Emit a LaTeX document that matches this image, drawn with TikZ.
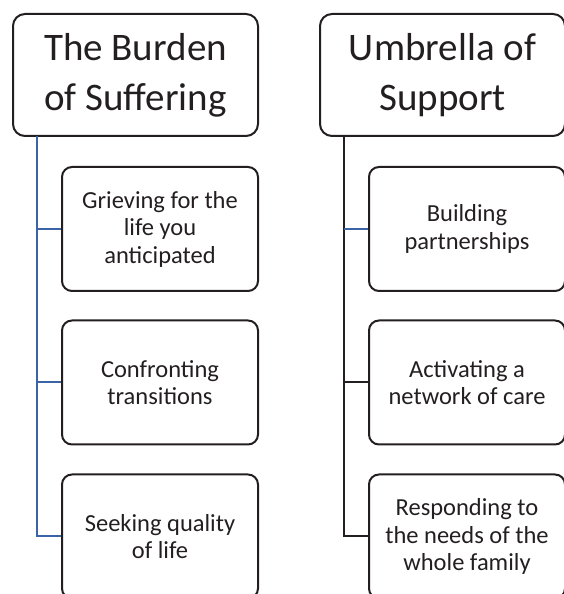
\documentclass[tikz,border=0pt]{standalone}
\usepackage{fontspec}
\setmainfont{Carlito}
\definecolor{linkblue}{HTML}{3A63A8}
\definecolor{boxline}{HTML}{231F20}
\definecolor{txt}{HTML}{231F20}
\tikzset{
  x=1pt,y=1pt,
  hdr/.style={draw=boxline,line width=2pt,rounded corners=12pt,minimum width=245pt,minimum height=122pt,align=center,text=txt,inner sep=0pt,font=\fontsize{39}{50}\selectfont},
  child/.style={draw=boxline,line width=2pt,rounded corners=10pt,minimum width=196pt,minimum height=124pt,align=center,text=txt,inner sep=0pt,font=\fontsize{24.5}{27.5}\selectfont},
  bluelink/.style={draw=linkblue,line width=2pt},
  blacklink/.style={draw=boxline,line width=2pt}
}
\begin{document}
\begin{tikzpicture}
\useasboundingbox (0,0) rectangle (563,594);
\coordinate (L0) at (37,458);
\coordinate (R0) at (344,458);
\node[hdr] (h1) at (135.5,519) {The Burden\\of Suffering};
\node[hdr] (h2) at (442.5,519) {Umbrella of\\Support};
\node[child] (a1) at (160,365) {Grieving for the\\life you\\anticipated};
\node[child] (a2) at (160,211.5) {Confronting\\transitions};
\node[child] (a3) at (160,57.5) {Seeking quality\\of life};
\node[child] (b1) at (467,365) {Building\\partnerships};
\node[child] (b2) at (467,211.5) {Activating a\\network of care};
\node[child] (b3) at (467,57.5) {Responding to\\the needs of the\\whole family};
\draw[bluelink] (L0) |- (a3.west);
\draw[bluelink] (L0 |- a1.west) -- (a1.west);
\draw[bluelink] (L0 |- a2.west) -- (a2.west);
\draw[blacklink] (R0) |- (b3.west);
\draw[bluelink] (R0 |- b1.west) -- (b1.west);
\draw[blacklink] (R0 |- b2.west) -- (b2.west);
\end{tikzpicture}
\end{document}
